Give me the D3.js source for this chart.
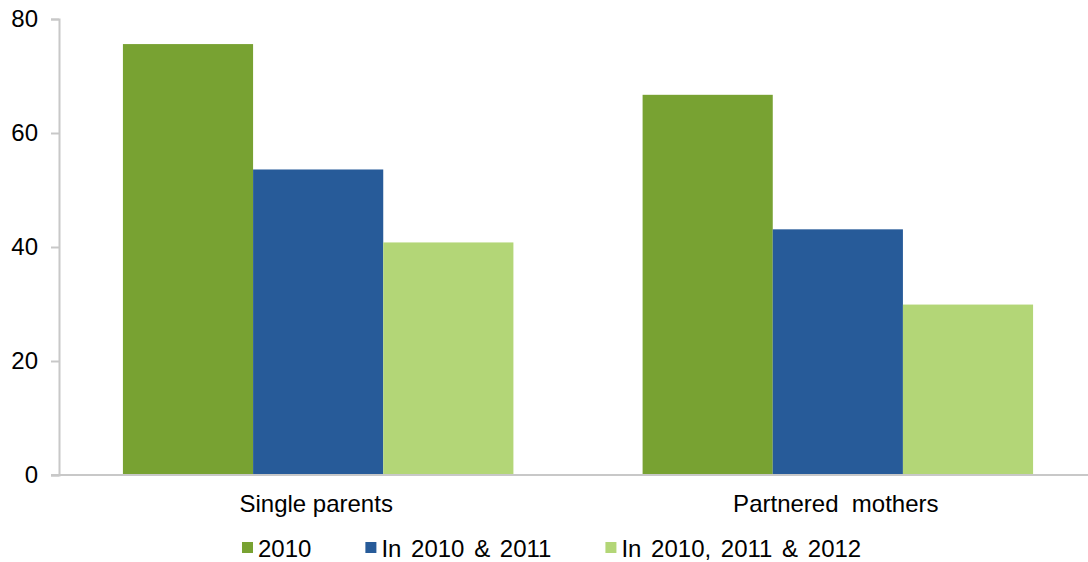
<!DOCTYPE html>
<html>
<head>
<meta charset="utf-8">
<script src="https://cdn.jsdelivr.net/npm/d3@7"></script>
<style>
  html, body { margin: 0; padding: 0; background: #fff; }
  svg { display: block; }
  text { font-family: "Liberation Sans", Arial, sans-serif; fill: #000; }
</style>
</head>
<body>
<svg id="chart" width="1088" height="562"></svg>
<script>
const categories = ["Single parents", "Partnered  mothers"];
const seriesNames = ["2010", "In 2010 & 2011", "In 2010, 2011 & 2012"];
const seriesColors = ["#78a232", "#275b99", "#b3d677"];
const values2010 = [75.6, 66.7];
const valuesIn2010_2011 = [53.6, 43.1];
const valuesIn2010_2011_2012 = [40.8, 29.9];
const yTicks = [0, 20, 40, 60, 80];

const seriesValues = [values2010, valuesIn2010_2011, valuesIn2010_2011_2012];

(function () {
const svg = d3.select("#chart");
const mLeft = 59, mRight = 1097, mTop = 19, mBottom = 475;
const FONT = '"Liberation Sans", Arial, sans-serif';

const x0 = d3.scaleBand().domain(categories).range([mLeft, mRight])
  .paddingInner(0.2486).paddingOuter(0.123);
const x1 = d3.scaleBand().domain(seriesNames).range([0, x0.bandwidth()]).padding(0);
const y = d3.scaleLinear().domain([0, 80]).range([mBottom, mTop]);

// Bars
const groups = svg.append("g").selectAll("g")
  .data(categories).join("g")
  .attr("transform", d => `translate(${x0(d)},0)`);
groups.selectAll("rect")
  .data((c, ci) => seriesNames.map((s, si) => ({ s, si, v: seriesValues[si][ci] })))
  .join("rect")
  .attr("x", d => x1(d.s))
  .attr("width", x1.bandwidth())
  .attr("y", d => y(d.v))
  .attr("height", d => y(0) - y(d.v))
  .attr("fill", d => seriesColors[d.si]);

// Y axis
const yAxis = d3.axisLeft(y).tickValues(yTicks).tickSize(8).tickPadding(13).tickSizeOuter(8);
const ya = svg.append("g").attr("transform", `translate(${mLeft},0)`).call(yAxis);
ya.select(".domain").attr("stroke", "#c8c8c8").attr("stroke-width", 2);
ya.selectAll(".tick line").attr("stroke", "#c8c8c8").attr("stroke-width", 2);
ya.selectAll(".tick text").attr("font-size", 24)
  .style("font-family", FONT).attr("fill", "#000");

// X axis baseline
const xAxis = d3.axisBottom(x0).tickSize(0).tickSizeOuter(0).tickPadding(0);
const xa = svg.append("g").attr("transform", `translate(0,${mBottom})`).call(xAxis);
xa.select(".domain").attr("stroke", "#c8c8c8").attr("stroke-width", 2)
  .attr("d", `M${mLeft - 8},0H1088`);
xa.selectAll(".tick text")
  .attr("font-size", 24)
  .style("font-family", FONT)
  .style("white-space", "pre").attr("xml:space", "preserve")
  .attr("fill", "#000").attr("dy", null).attr("y", 37).attr("x", -2);

// Legend
const legend = svg.append("g");
const items = legend.selectAll("g").data(seriesNames).join("g");
items.append("rect").attr("width", 11).attr("height", 11).attr("y", -15)
  .attr("fill", (d, i) => seriesColors[i]);
items.append("text").attr("x", 16).attr("font-size", 24)
  .style("word-spacing", "3px").text(d => d);
let cx = 0;
const gap = 54;
items.each(function () {
  const g = d3.select(this);
  g.attr("transform", `translate(${cx},0)`);
  const w = g.select("text").node().getComputedTextLength();
  cx += 16 + w + gap;
});
legend.attr("transform", `translate(242,557)`);
})();
</script>
</body>
</html>
